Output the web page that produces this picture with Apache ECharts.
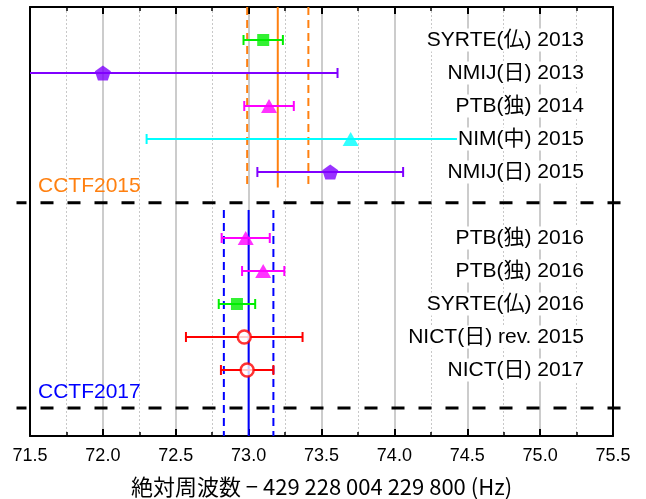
<!DOCTYPE html>
<html>
<head>
<meta charset="utf-8">
<script src="https://cdn.jsdelivr.net/npm/echarts@6/dist/echarts.min.js"></script>
<style>
html,body{margin:0;padding:0;background:#fff;}
#chart{width:646px;height:499px;}
</style>
</head>
<body>
<div id="chart"></div>
<script>
// ---- data ----
const labels = ['SYRTE(仏) 2013', 'NMIJ(日) 2013', 'PTB(独) 2014', 'NIM(中) 2015', 'NMIJ(日) 2015',
                'PTB(独) 2016', 'PTB(独) 2016', 'SYRTE(仏) 2016', 'NICT(日) rev. 2015', 'NICT(日) 2017'];
const rows = [1, 2, 3, 4, 5, 7, 8, 9, 10, 11];
const values = [73.10, 72.00, 73.14, 73.70, 73.56, 72.98, 73.10, 72.92, 72.97, 72.99];
const uncertainties = [0.135, 1.61, 0.17, 1.40, 0.50, 0.165, 0.145, 0.125, 0.40, 0.18];
const markerKinds = ['square', 'pentagon', 'triangle', 'triangle', 'pentagon', 'triangle', 'triangle', 'square', 'circle', 'circle'];
const pointColors = ['#00ee00', '#8000ff', '#ff00ff', '#00ffff', '#8000ff', '#ff00ff', '#ff00ff', '#00ee00', '#ff0000', '#ff0000'];

const cctfNames = ['CCTF2015', 'CCTF2017'];
const cctfValues = [73.20, 73.00];
const cctfUnc = [0.21, 0.17];
const cctfSpanStart = [0, 6.15];
const cctfSpanEnd = [5.47, 13];
const cctfLabelRows = [5.42, 11.68];
const cctfColors = ['#ff8010', '#0000ff'];

const separatorRows = [5.93, 12.15];

const xMin = 71.5, xMax = 75.5, xStep = 0.5;
const yMin = 0, yMax = 13;
const xTitle = '絶対周波数 − 429 228 004 229 800 (Hz)';

// ---- chart ----
const latin = '"Liberation Sans", "Noto Sans CJK JP", Arial, sans-serif';
const chart = echarts.init(document.getElementById('chart'), null, {renderer: 'canvas'});

const pentagon = 'path://M0,-1 L0.951,-0.309 L0.588,0.809 L-0.588,0.809 L-0.951,-0.309 Z';
function symbolFor(kind) {
  if (kind === 'square') return {symbol: 'rect', symbolSize: 12};
  if (kind === 'pentagon') return {symbol: pentagon, symbolSize: [16, 15]};
  if (kind === 'triangle') return {symbol: 'triangle', symbolSize: [16, 14]};
  return {symbol: 'circle', symbolSize: 13};
}

const scatterData = values.map((v, i) => {
  const s = symbolFor(markerKinds[i]);
  const isCircle = markerKinds[i] === 'circle';
  return {
    value: [v, rows[i]],
    symbol: s.symbol,
    symbolSize: s.symbolSize,
    itemStyle: isCircle
      ? {color: '#ffffff', borderColor: pointColors[i], borderWidth: 2.5}
      : {color: pointColors[i]}
  };
});

const xAxisCommon = {
  type: 'value', min: xMin, max: xMax, interval: xStep,
  axisLine: {show: true, onZero: false, lineStyle: {color: '#000', width: 2}},
  axisTick: {show: true, inside: true, length: 7, lineStyle: {color: '#000', width: 2}},
  minorTick: {show: true, splitNumber: 2, length: 4, lineStyle: {color: '#000', width: 1.5}},
};

const option = {
  backgroundColor: '#fff',
  animation: false,
  grid: {left: 30, right: 33, top: 7, bottom: 63, containLabel: false, outerBoundsMode: 'none'},
  xAxis: [
    Object.assign({}, xAxisCommon, {
      position: 'bottom',
      axisLabel: {show: true, margin: 11, color: '#000', fontSize: 18, fontFamily: latin,
                  formatter: v => v.toFixed(1)},
      splitLine: {show: true, lineStyle: {color: '#bbbbbb', width: 1.5}},
      minorSplitLine: {show: true, lineStyle: {color: '#c8c8c8', width: 1, type: [2, 2]}},
      name: xTitle, nameLocation: 'middle', nameGap: 40,
      nameTextStyle: {color: '#000', fontSize: 22, fontFamily: '"Noto Sans CJK JP", sans-serif'}
    }),
    Object.assign({}, xAxisCommon, {
      position: 'top',
      axisLabel: {show: false},
      splitLine: {show: false},
      minorSplitLine: {show: false}
    })
  ],
  yAxis: [
    {type: 'value', inverse: true, min: yMin, max: yMax, position: 'left',
     axisLine: {show: true, onZero: false, lineStyle: {color: '#000', width: 2}},
     axisTick: {show: false}, axisLabel: {show: false}, splitLine: {show: false}},
    {type: 'value', inverse: true, min: yMin, max: yMax, position: 'right',
     axisLine: {show: true, onZero: false, lineStyle: {color: '#000', width: 2}},
     axisTick: {show: false}, axisLabel: {show: false}, splitLine: {show: false}}
  ],
  series: [
    // separator dashed lines (extend beyond frame)
    {
      type: 'custom', clip: false, z: 3,
      data: separatorRows.map(r => [r]),
      renderItem: (params, api) => {
        const y = api.value(0);
        const a = api.coord([xMin, y]);
        const b = api.coord([xMax, y]);
        return {
          type: 'line',
          shape: {x1: a[0] - 13.5, y1: a[1], x2: b[0] + 15, y2: b[1]},
          style: {stroke: '#000', lineWidth: 3, lineDash: [13, 14], lineDashOffset: 3}
        };
      }
    },
    // CCTF reference lines
    {
      type: 'custom', clip: true, z: 4,
      data: cctfValues.map((v, i) => [v, cctfUnc[i], cctfSpanStart[i], cctfSpanEnd[i], cctfLabelRows[i], i]),
      renderItem: (params, api) => {
        const v = api.value(0), u = api.value(1), s = api.value(2), e = api.value(3), lr = api.value(4);
        const i = api.value(5);
        const col = cctfColors[i];
        const mk = (x, dashed) => {
          const p1 = api.coord([x, s]), p2 = api.coord([x, e]);
          return {type: 'line', shape: {x1: p1[0], y1: p1[1], x2: p2[0], y2: p2[1]},
                  style: {stroke: col, lineWidth: 2, lineDash: dashed ? [8, 5] : null}};
        };
        const lp = api.coord([xMin, lr]);
        return {
          type: 'group',
          children: [
            mk(v - u, true), mk(v + u, true), mk(v, false),
            {type: 'text', x: lp[0] + 8, y: lp[1],
             style: {text: cctfNames[i], fill: col, font: '21px ' + latin, align: 'left', verticalAlign: 'middle'}}
          ]
        };
      }
    },
    // error bars
    {
      type: 'custom', clip: true, z: 5,
      data: values.map((v, i) => [v, rows[i], uncertainties[i], i]),
      renderItem: (params, api) => {
        const x = api.value(0), y = api.value(1), e = api.value(2), i = api.value(3);
        const col = pointColors[i];
        const a = api.coord([x - e, y]), b = api.coord([x + e, y]);
        const cap = 5;
        const st = {stroke: col, lineWidth: 2};
        return {
          type: 'group',
          children: [
            {type: 'line', shape: {x1: a[0], y1: a[1], x2: b[0], y2: b[1]}, style: st},
            {type: 'line', shape: {x1: a[0], y1: a[1] - cap, x2: a[0], y2: a[1] + cap}, style: st},
            {type: 'line', shape: {x1: b[0], y1: b[1] - cap, x2: b[0], y2: b[1] + cap}, style: st}
          ]
        };
      }
    },
    // markers
    {
      type: 'scatter', z: 6, clip: true,
      data: scatterData
    },
    // row labels
    {
      type: 'custom', clip: false, z: 7,
      data: rows.map((r, i) => [r, i]),
      renderItem: (params, api) => {
        const r = api.value(0), i = api.value(1);
        const p = api.coord([xMax, r]);
        return {
          type: 'text', x: p[0] - 28, y: p[1],
          style: {text: labels[i], fill: '#000', font: '21px ' + latin,
                  align: 'right', verticalAlign: 'middle',
                  backgroundColor: '#fff', padding: [1, 1]}
        };
      }
    }
  ]
};
chart.setOption(option);
</script>
</body>
</html>
